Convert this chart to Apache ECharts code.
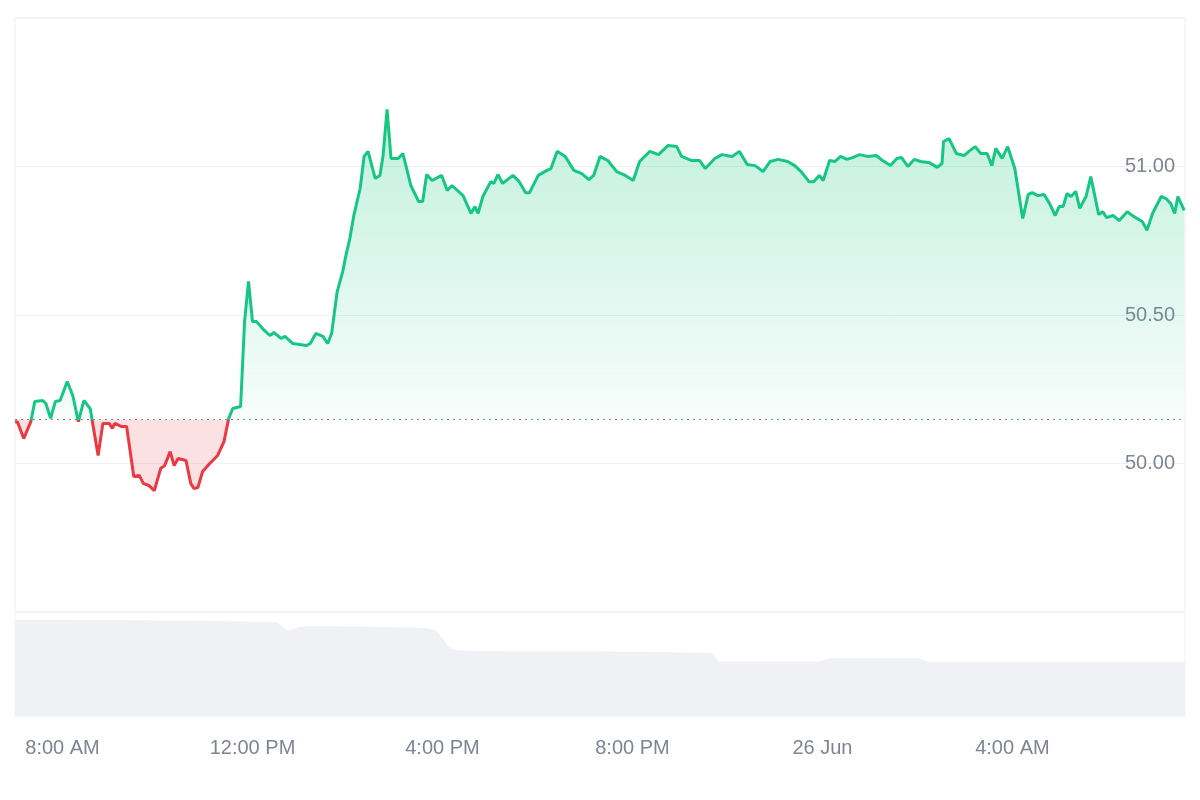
<!DOCTYPE html>
<html><head><meta charset="utf-8">
<script src="https://cdn.jsdelivr.net/npm/echarts@6/dist/echarts.min.js"></script>
<style>html,body{margin:0;padding:0;background:#fff}#c{width:1200px;height:800px}</style>
</head><body><div id="c"></div>
<script>
// minutes since 7:00 AM, 25 Jun
const times = [0,3,11,20,25,35,39,45,51,57,66,73,80,87,95,105,111,119,123,126,134,141,150,157,162,169,176,184,189,196,201,206,216,222,226,231,237,246,256,264,270,275,285,290,295,300,305,315,322,327,336,341,351,368,373,380,389,395,400,407,414,418,423,428,436,441,446,455,461,465,470,475,484,490,500,510,515,520,527,539,546,552,566,576,581,585,591,601,605,610,616,629,637,645,650,661,672,677,685,695,706,716,725,731,739,749,760,771,781,789,802,813,825,836,842,855,865,872,884,893,906,915,925,935,945,954,964,976,985,993,1003,1009,1016,1021,1029,1036,1043,1051,1058,1067,1077,1088,1096,1106,1114,1120,1128,1136,1144,1155,1165,1171,1173,1180,1189,1199,1205,1213,1220,1228,1234,1239,1247,1254,1263,1273,1280,1285,1292,1300,1307,1314,1319,1324,1329,1334,1340,1345,1353,1359,1369,1374,1379,1387,1395,1405,1413,1424,1430,1437,1448,1454,1460,1465,1469,1477];
const prices = [50.14,50.141,50.084,50.141,50.209,50.212,50.202,50.152,50.209,50.212,50.276,50.229,50.141,50.212,50.185,50.027,50.135,50.135,50.118,50.135,50.125,50.125,49.956,49.96,49.933,49.926,49.909,49.983,49.993,50.04,49.993,50.017,50.01,49.933,49.916,49.919,49.973,50.0,50.027,50.074,50.152,50.185,50.192,50.478,50.613,50.478,50.478,50.448,50.431,50.441,50.421,50.428,50.404,50.397,50.404,50.438,50.428,50.404,50.438,50.579,50.646,50.7,50.758,50.835,50.926,51.034,51.051,50.96,50.97,51.037,51.192,51.027,51.027,51.044,50.936,50.882,50.882,50.973,50.953,50.97,50.919,50.936,50.902,50.842,50.865,50.842,50.899,50.949,50.943,50.973,50.943,50.97,50.949,50.912,50.912,50.97,50.987,50.993,51.051,51.034,50.987,50.976,50.956,50.97,51.034,51.02,50.983,50.97,50.953,51.017,51.051,51.04,51.071,51.067,51.034,51.02,51.02,50.993,51.027,51.04,51.034,51.051,51.007,51.003,50.983,51.017,51.024,51.017,51.003,50.983,50.949,50.949,50.97,50.953,51.02,51.017,51.034,51.024,51.03,51.04,51.034,51.037,51.02,51.003,51.027,51.03,51.0,51.024,51.017,51.013,50.997,51.01,51.084,51.094,51.044,51.037,51.051,51.067,51.044,51.044,51.003,51.061,51.027,51.067,50.993,50.825,50.906,50.912,50.902,50.906,50.875,50.835,50.865,50.865,50.909,50.899,50.916,50.859,50.899,50.966,50.838,50.848,50.828,50.835,50.818,50.848,50.832,50.815,50.785,50.842,50.899,50.892,50.875,50.842,50.899,50.852];
const baseline = 50.148;
const volTimes = [0,330,345,365,500,530,555,600,880,890,1015,1030,1140,1155,1478];
const volValues = [3.7,3.6,3.3,3.45,3.4,3.3,2.55,2.5,2.42,2.1,2.1,2.22,2.22,2.08,2.08];
const tickMinutes = [60,300,540,780,1020,1260];
const tickLabels = ['8:00 AM','12:00 PM','4:00 PM','8:00 PM','26 Jun','4:00 AM'];

const yMin = 49.5, yMax = 51.5, gTop = 18, gH = 594;
const line = times.map((t,i)=>[t,prices[i]]);
const up = times.map((t,i)=>[t,Math.max(prices[i],baseline)]);
const down = times.map((t,i)=>[t,Math.min(prices[i],baseline)]);
const vol = volTimes.map((t,i)=>[t,volValues[i]]);
const labelMap = {}; tickMinutes.forEach((m,i)=>labelMap[m]=tickLabels[i]);

const chart = echarts.init(document.getElementById('c'));
const basePx = gTop + (yMax-baseline)/(yMax-yMin)*gH;
const off = basePx/800;
const lineColor = new echarts.graphic.LinearGradient(0,0,0,800,[
  {offset:0,color:'#16c784'},{offset:off,color:'#16c784'},{offset:off,color:'#ea3943'},{offset:1,color:'#ea3943'}],true);
const F = 'Liberation Sans, Arial, sans-serif';
chart.setOption({
  animation:false,
  grid:[
    {left:15,right:15,top:gTop,height:gH,show:true,borderColor:'#eceff3',borderWidth:1},
    {left:15,right:15,top:612,height:104,show:true,borderColor:'#f0f2f5',borderWidth:1}
  ],
  xAxis:[
    {gridIndex:0,type:'value',min:0,max:1478,axisLine:{show:false},axisTick:{show:false},axisLabel:{show:false},splitLine:{show:false}},
    {gridIndex:1,type:'value',min:0,max:1478,axisLine:{show:false},axisTick:{show:false},splitLine:{show:false},
     axisLabel:{customValues:tickMinutes,formatter:v=>labelMap[v]||'',color:'#7d8593',fontSize:20,margin:22,fontFamily:F}}
  ],
  yAxis:[
    {gridIndex:0,type:'value',position:'right',min:yMin,max:yMax,interval:0.5,
     axisLine:{show:false},axisTick:{show:false},
     splitLine:{lineStyle:{color:'#f0f1f3'}},
     axisLabel:{inside:true,showMinLabel:false,showMaxLabel:false,margin:10,color:'#7d8593',fontSize:20,
       fontFamily:F,formatter:v=>v.toFixed(2),verticalAlign:'middle'}},
    {gridIndex:1,type:'value',min:0,max:4,axisLine:{show:false},axisTick:{show:false},axisLabel:{show:false},splitLine:{show:false}}
  ],
  series:[
    {type:'line',data:up,symbol:'none',lineStyle:{width:0},silent:true,
     areaStyle:{origin:baseline,color:new echarts.graphic.LinearGradient(0,0,0,1,[{offset:0,color:'rgba(22,199,132,0.38)'},{offset:1,color:'rgba(22,199,132,0.05)'}])}},
    {type:'line',data:down,symbol:'none',lineStyle:{width:0},silent:true,
     areaStyle:{origin:baseline,color:'rgba(234,57,67,0.22)'}},
    {type:'line',data:line,symbol:'none',lineStyle:{width:3,color:lineColor},itemStyle:{color:'#16c784'},
     markLine:{silent:true,symbol:'none',label:{show:false},lineStyle:{color:'#888',type:[2,4],width:1},data:[{yAxis:baseline}]}},
    {type:'line',xAxisIndex:1,yAxisIndex:1,data:vol,symbol:'none',smooth:0.3,lineStyle:{width:0},areaStyle:{color:'#eff1f5',opacity:1}}
  ],
  graphic:[{type:'text',left:17,top:636,style:{text:'3',fontSize:18,fill:'#111',fontFamily:F}}]
});
</script></body></html>
